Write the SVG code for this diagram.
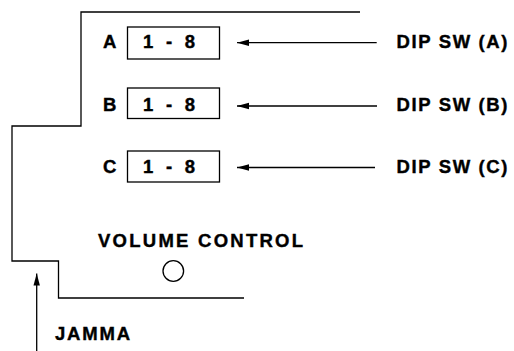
<svg xmlns="http://www.w3.org/2000/svg" width="514" height="351" viewBox="0 0 514 351">
<style>
.ln{fill:none;stroke:#000;stroke-width:1.3}
.bx{fill:#fff;stroke:#000;stroke-width:1.3}
.t{font-family:"Liberation Sans",Arial,sans-serif;font-weight:bold;font-size:18.5px;fill:#000;stroke:#000;stroke-width:0.4}
</style>
<defs>
<marker id="ah" viewBox="0 0 12 8" refX="12" refY="4" markerWidth="12" markerHeight="8" markerUnits="userSpaceOnUse" orient="auto">
<path d="M12,4 L0,0.8 L0,7.2 Z" fill="#000"/>
</marker>
</defs>
<rect width="514" height="351" fill="#fff"/>
<g id="board">
<path class="ln" d="M360,12 H81 V126 H12 V261 H58.5 V298 H244"/>
</g>
<g id="switchA">
<text class="t" x="103" y="47.5">A</text>
<rect class="bx" x="127.5" y="27" width="92" height="32"/>
<text class="t" x="143" y="47.5" textLength="52" lengthAdjust="spacing">1 - 8</text>
</g>
<g id="switchB">
<text class="t" x="103" y="110.5">B</text>
<rect class="bx" x="127.5" y="88" width="92" height="30.5"/>
<text class="t" x="143" y="110.5" textLength="52" lengthAdjust="spacing">1 - 8</text>
</g>
<g id="switchC">
<text class="t" x="103" y="172.5">C</text>
<rect class="bx" x="127.5" y="151" width="92" height="31"/>
<text class="t" x="143" y="172.5" textLength="52" lengthAdjust="spacing">1 - 8</text>
</g>
<g id="dipA"><text class="t" x="396.5" y="47.7" textLength="111" lengthAdjust="spacing">DIP SW (A)</text></g>
<g id="dipB"><text class="t" x="396.5" y="110.5" textLength="111" lengthAdjust="spacing">DIP SW (B)</text></g>
<g id="dipC"><text class="t" x="396.5" y="173" textLength="111" lengthAdjust="spacing">DIP SW (C)</text></g>
<g id="volume">
<text class="t" x="98" y="247" textLength="205" lengthAdjust="spacing">VOLUME CONTROL</text>
<circle class="ln" cx="173.3" cy="271" r="10.3" stroke-width="1.8"/>
</g>
<g id="jamma">
<text class="t" x="55" y="340" textLength="75" lengthAdjust="spacing">JAMMA</text>
</g>
<g id="connectors">
<path class="ln" d="M376.7,42.7 H237" marker-end="url(#ah)"/>
<path class="ln" d="M377,106 H237" marker-end="url(#ah)"/>
<path class="ln" d="M375,167.5 H237" marker-end="url(#ah)"/>
<path class="ln" d="M36.7,351 V273.5" marker-end="url(#ah)"/>
</g>
</svg>
